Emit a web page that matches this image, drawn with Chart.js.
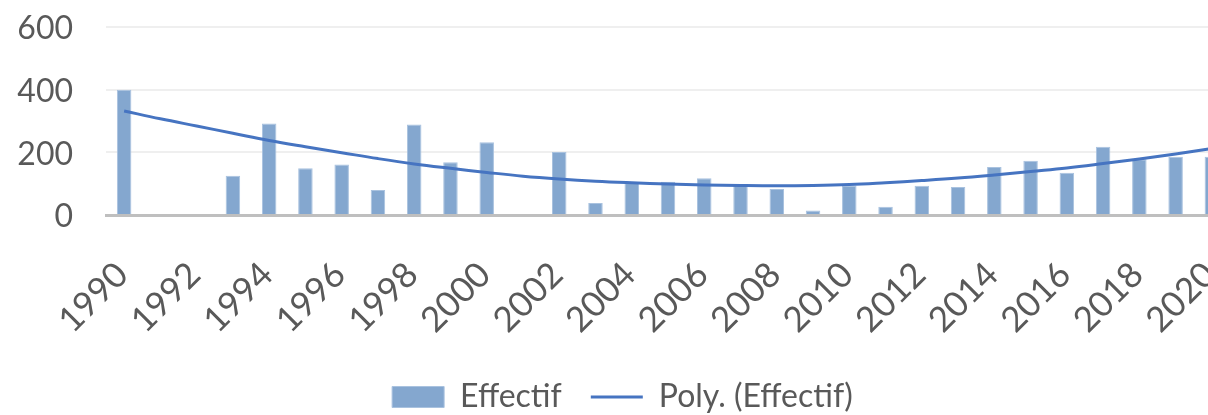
<!DOCTYPE html>
<html>
<head>
<meta charset="utf-8">
<script src="https://cdn.jsdelivr.net/npm/chart.js@4/dist/chart.umd.min.js"></script>
<style>
  html, body { margin: 0; padding: 0; background: #fff; overflow: hidden; }
  #chart { display: block; }
</style>
</head>
<body>
<!-- the reference is cropped on the right, so the canvas is a little wider than the window -->
<canvas id="chart" width="1230" height="415"></canvas>
<script>
const years = ['1990', '1991', '1992', '1993', '1994', '1995', '1996', '1997', '1998', '1999',
  '2000', '2001', '2002', '2003', '2004', '2005', '2006', '2007', '2008', '2009',
  '2010', '2011', '2012', '2013', '2014', '2015', '2016', '2017', '2018', '2019', '2020'];

// bar values
const effectif = [400, 0, 0, 125, 292, 149, 161, 80, 289, 168,
  232, 0, 201, 38, 103, 106, 117, 99, 83, 14,
  94, 26, 93, 89, 153, 173, 135, 218, 178, 186, 186];

// polynomial trend line, read at each year
const polyTrend = [332, 307, 284, 261, 238, 218, 199, 180, 163, 149,
  136, 124, 115, 108, 103, 99, 96, 94, 93, 94,
  97, 103, 110, 118, 128, 139, 150, 164, 179, 195, 212];

const yTicks = [0, 200, 400, 600];

const textColor = '#595959';
const fontFamily = 'Lato, "Open Sans", sans-serif';

const ctx = document.getElementById('chart').getContext('2d');

new Chart(ctx, {
  type: 'bar',
  data: {
    labels: years,
    datasets: [{
      label: 'Effectif',
      data: effectif,
      backgroundColor: '#84A7CF',
      borderColor: '#A9C2DF',
      borderWidth: 1,
      categoryPercentage: 1,
      barPercentage: 0.4,
      pointStyle: 'rect',
      order: 1
    }, {
      type: 'line',
      label: 'Poly. (Effectif)',
      data: polyTrend,
      borderColor: '#4674C1',
      borderWidth: 3,
      pointRadius: 0,
      pointStyle: 'line',
      pointBorderColor: '#4674C1',
      pointBorderWidth: 3,
      tension: 0.4,
      fill: false,
      order: 0
    }]
  },
  options: {
    responsive: false,
    animation: false,
    layout: { padding: { left: 15, right: 0, top: 27, bottom: -8 } },
    plugins: {
      tooltip: { enabled: false },
      legend: {
        position: 'bottom',
        labels: {
          usePointStyle: true,
          pointStyleWidth: 52,
          boxHeight: 21,
          padding: 29,
          color: textColor,
          font: { family: fontFamily, size: 32 },
          sort: (a, b) => a.datasetIndex - b.datasetIndex
        }
      }
    },
    scales: {
      x: {
        grid: { display: false },
        border: { color: '#BFBFBF', width: 3 },
        // fixed height, and no extra side padding for the rotated labels
        afterFit: s => { s.height = 137; s.paddingLeft = 0; s.paddingRight = 0; },
        ticks: {
          autoSkip: false,
          minRotation: 45,
          maxRotation: 45,
          padding: 31,
          labelOffset: -2,
          color: textColor,
          font: { family: fontFamily, size: 35 },
          callback: function (val, i) { return i % 2 === 0 ? years[i] : ''; }
        }
      },
      y: {
        min: 0,
        max: 600,
        afterFit: s => { s.width = 91; s.paddingTop = 0; s.paddingBottom = 0; },
        afterBuildTicks: s => { s.ticks = yTicks.map(v => ({ value: v })); },
        grid: { color: '#EFEFEF', lineWidth: 2, drawTicks: false },
        border: { display: false },
        ticks: {
          padding: 33,
          labelOffset: 2,
          color: textColor,
          font: { family: fontFamily, size: 32 }
        }
      }
    }
  }
});
</script>
</body>
</html>
